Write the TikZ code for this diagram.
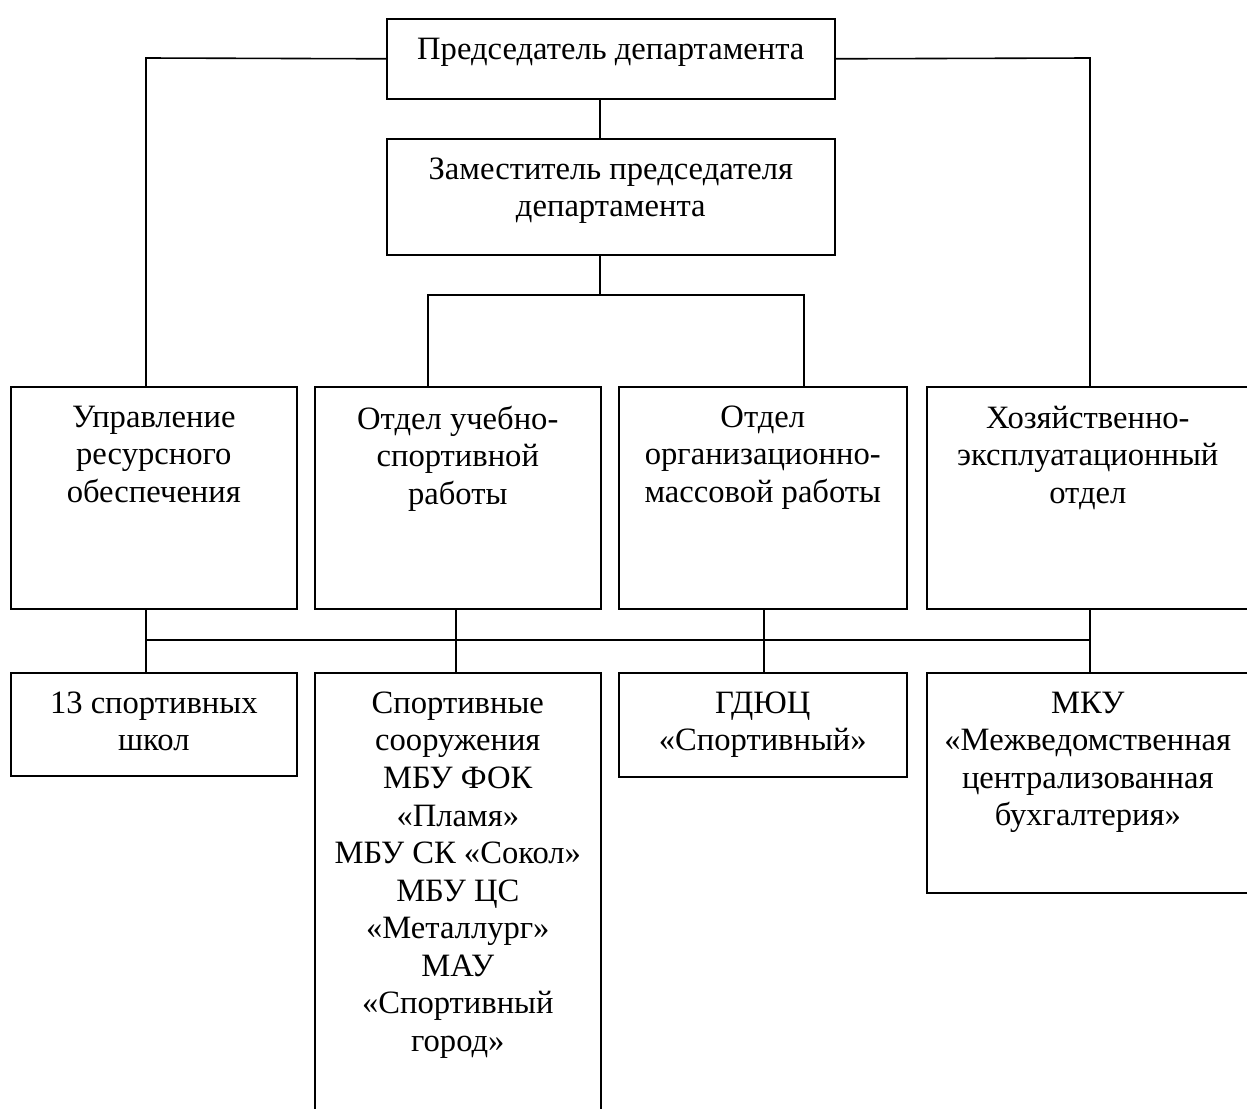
\documentclass[tikz,border=0pt]{standalone}
\usepackage{fontspec}
\setmainfont{Liberation Serif}
\usetikzlibrary{positioning}

\tikzset{
  unit/.style={draw, line width=0.8pt, inner sep=0pt, anchor=north west},
  caption/.style={align=center, inner sep=0pt, font=\fontsize{16.3}{18.78}\selectfont},
  link/.style={line width=0.8pt},
}

\begin{document}
\begin{tikzpicture}[x=0.5pt, y=-0.5pt]

\useasboundingbox (0,0) rectangle (1247,1108);
\clip (0,0) rectangle (1247,1108);

% --- Junctions ---
\coordinate (leftarm) at (146,58);
\coordinate (rightarm) at (1090,58);
\coordinate (trunk) at (600,295);
\coordinate (forkL) at (428,295);
\coordinate (forkR) at (804,295);
\coordinate (upr-drop) at (146,640);
\coordinate (usr-drop) at (456,640);
\coordinate (org-drop) at (764,640);
\coordinate (hoz-drop) at (1090,640);

% --- Boxes ---
\foreach \name/\x/\y/\w/\h in {
    pred/386/18/448/80, zam/386/138/448/116,
    upr/10/386/286/222, usr/314/386/286/222, org/618/386/288/222, hoz/926/386/322/222,
    shk/10/672/286/103, soor/314/672/286/460, gdu/618/672/288/104, mku/926/672/322/220
} {
    \node[unit, minimum width=\w*0.5pt, minimum height=\h*0.5pt] (\name) at (\x,\y) {};
}

% --- Texts ---
\node[caption, below=9.7pt of pred.north] (pred-t) {Председатель департамента};
\node[caption, below=9.7pt of zam.north] (zam-t) {Заместитель председателя\\департамента};
\node[caption, below=9.7pt of upr.north] (upr-t) {Управление\\ресурсного\\обеспечения};
\node[caption, below=9.7pt of usr.north] (usr-t) {Отдел учебно-\\спортивной\\работы};
\node[caption, below=9.7pt of org.north] (org-t) {Отдел\\организационно-\\массовой работы};
\node[caption, below=9.7pt of hoz.north] (hoz-t) {Хозяйственно-\\эксплуатационный\\отдел};
\node[caption, below=9.7pt of shk.north] (shk-t) {13 спортивных\\школ};
\node[caption, below=9.7pt of soor.north] (soor-t) {Спортивные\\сооружения\\МБУ ФОК\\«Пламя»\\МБУ СК «Сокол»\\МБУ ЦС\\«Металлург»\\МАУ\\«Спортивный\\город»};
\node[caption, below=9.7pt of gdu.north] (gdu-t) {ГДЮЦ\\«Спортивный»};
\node[caption, below=9.7pt of mku.north] (mku-t) {МКУ\\«Межведомственная\\централизованная\\бухгалтерия»};

% --- Upper links ---
\draw[link] (pred.west) -- (leftarm) -- (upr.north -| leftarm);
\draw[link] (pred.east) -- (rightarm) -- (hoz.north -| rightarm);
\draw[link] (pred.south -| trunk) -- (zam.north -| trunk);
\draw[link] (zam.south -| trunk) -- (trunk);
\draw[link] (usr.north -| forkL) -- (forkL) -- (forkR) -- (org.north -| forkR);

% --- Lower bus ---
\draw[link] (upr-drop) -- (hoz-drop);
\foreach \up/\down in {upr/shk, usr/soor, org/gdu, hoz/mku} {
    \draw[link] (\up.south -| \up-drop) -- (\down.north -| \up-drop);
}

\end{tikzpicture}
\end{document}
